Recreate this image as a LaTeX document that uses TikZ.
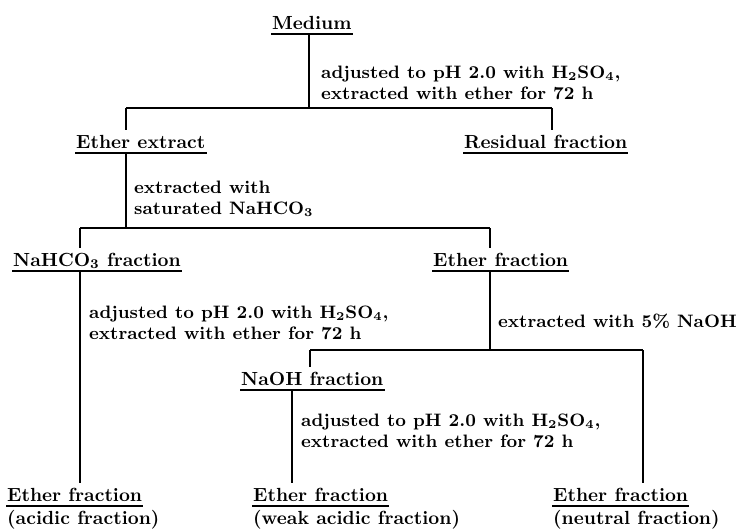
\documentclass[tikz,border=0pt]{standalone}
\usepackage{fontspec}
\usepackage{tikz}

\tikzset{
  frac/.style={anchor=base west, inner xsep=0pt, inner ysep=2pt, text depth=0pt,
    font=\fontsize{9.5}{10.5}\selectfont\bfseries},
  note/.style={anchor=base west, align=left, inner sep=0pt,
    font=\fontsize{9}{10.5}\selectfont\bfseries},
  uline/.style={line width=0.9pt}
}

\begin{document}
\begin{tikzpicture}[x=0.5pt, y=-0.5pt, line width=1.2pt]
    \useasboundingbox (0,0) rectangle (737,530);
    % junctions of the branching lines
    \coordinate (b1l) at (126,108);
    \coordinate (b1m) at (309,108);
    \coordinate (b1r) at (552,108);
    \coordinate (b2l) at (80,228);
    \coordinate (b2m) at (126,228);
    \coordinate (b2r) at (490,228);
    \coordinate (b3l) at (310,350);
    \coordinate (b3m) at (490,350);
    \coordinate (b3r) at (643,350);
    \coordinate (c2) at (292,350);
    % fractions
    \node[frac] (med) at (271,29) {Medium};
    \node[frac] (ext) at (75,148) {Ether extract};
    \node[frac] (res) at (463,148) {Residual fraction};
    \node[frac] (nah) at (12,266) {NaHCO\textsubscript{3} fraction};
    \node[frac] (eth) at (432,266) {Ether fraction};
    \node[frac] (naoh) at (240,385) {NaOH fraction};
    \node[frac] (acd) at (6,501) {Ether fraction};
    \node[frac] (wka) at (252,501) {Ether fraction};
    \node[frac] (neu) at (552,501) {Ether fraction};
    \node[frac] (acdx) at (6,524) {(acidic fraction)};
    \node[frac] (wkax) at (252,524) {(weak acidic fraction)};
    \node[frac] (neux) at (552,524) {(neutral fraction)};
    \foreach \n in {med,ext,res,nah,eth,naoh,acd,wka,neu}
        \draw[uline] (\n.south west) -- (\n.south east);
    % treatments
    \node[note] (t1) at (320,99) {adjusted to pH 2.0 with H\textsubscript{2}SO\textsubscript{4},\\extracted with ether for 72 h};
    \node[note] (t2) at (133,214) {extracted with\\saturated NaHCO\textsubscript{3}};
    \node[note] (t3) at (88,339) {adjusted to pH 2.0 with H\textsubscript{2}SO\textsubscript{4},\\extracted with ether for 72 h};
    \node[note] (t4) at (497,327) {extracted with 5\% NaOH};
    \node[note] (t5) at (300,447) {adjusted to pH 2.0 with H\textsubscript{2}SO\textsubscript{4},\\extracted with ether for 72 h};
    % lines
    \draw (med.south -| b1m) -- (b1m);
    \draw (b1l) -- (b1r);
    \draw (b1l) -- (b1l |- ext.north);
    \draw (b1r) -- (b1r |- res.north);
    \draw (ext.south -| b2m) -- (b2m);
    \draw (b2l) -- (b2r);
    \draw (b2l) -- (b2l |- nah.north);
    \draw (b2r) -- (b2r |- eth.north);
    \draw (nah.south -| b2l) -- (b2l |- acd.north);
    \draw (eth.south -| b3m) -- (b3m);
    \draw (b3l) -- (b3r);
    \draw (b3l) -- (b3l |- naoh.north);
    \draw (naoh.south -| c2) -- (c2 |- wka.north);
    \draw (b3r) -- (b3r |- neu.north);
\end{tikzpicture}
\end{document}
